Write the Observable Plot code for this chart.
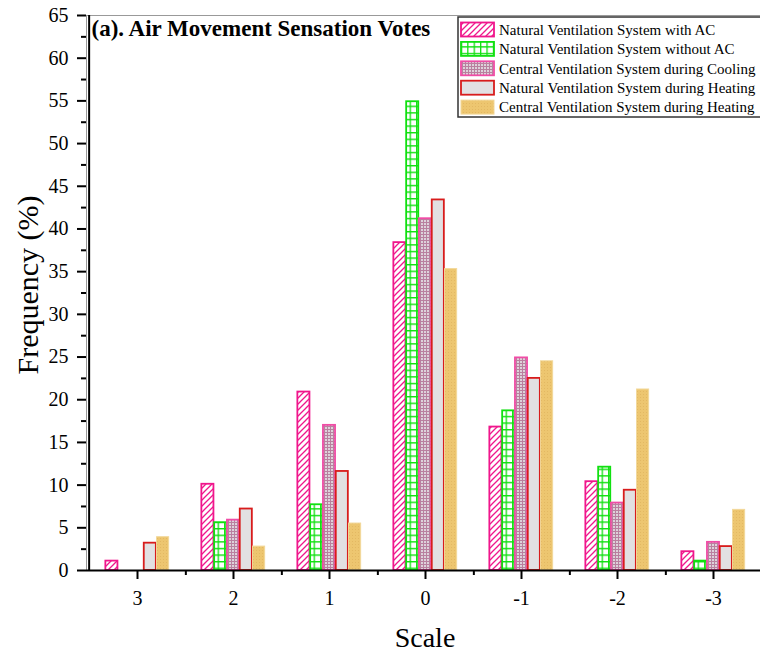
<!DOCTYPE html>
<html><head><meta charset="utf-8">
<script src="https://cdn.jsdelivr.net/npm/d3@7"></script>
<script src="https://cdn.jsdelivr.net/npm/@observablehq/plot@0.6"></script>
<style>
html,body{margin:0;padding:0;background:#fff;overflow:hidden;}
#chart{width:760px;height:656px;overflow:hidden;position:relative;}
#chart svg{max-width:none !important;}
</style></head><body><div id="chart"></div>
<script>
// ---- data ----
const scaleLabels = ["3", "2", "1", "0", "-1", "-2", "-3"];
const seriesNames = [
  "Natural Ventilation System with AC",
  "Natural Ventilation System without AC",
  "Central Ventilation System during Cooling",
  "Natural Ventilation System during Heating",
  "Central Ventilation System during Heating"
];
const natWithAC      = [1.1, 10.1, 20.9, 38.4, 16.8, 10.4, 2.2];
const natWithoutAC   = [0,   5.6,  7.7,  54.9, 18.7, 12.1, 1.1];
const centralCooling = [0,   5.9,  17.0, 41.2, 24.9, 7.9,  3.3];
const natHeating     = [3.2, 7.2,  11.6, 43.4, 22.5, 9.4,  2.8];
const centralHeating = [3.9, 2.8,  5.5,  35.3, 24.5, 21.2, 7.1];
const yTicks = [0, 5, 10, 15, 20, 25, 30, 35, 40, 45, 50, 55, 60, 65];
const yMinorTicks = [2.5, 7.5, 12.5, 17.5, 22.5, 27.5, 32.5, 37.5, 42.5, 47.5, 52.5, 57.5, 62.5];
const titleText = "(a). Air Movement Sensation Votes";
const xTitle = "Scale";
const yTitle = "Frequency (%)";

// ---- styles ----
const seriesValues = [natWithAC, natWithoutAC, centralCooling, natHeating, centralHeating];
const styles = [
  {fill: "url(#pHatch)", stroke: "#f0168c", sw: 1.8},
  {fill: "url(#pGrid)", stroke: "#10e010", sw: 1.8},
  {fill: "url(#pCool)", stroke: "#f04ca6", sw: 1.8},
  {fill: "#e2e0e2", stroke: "#d81c1c", sw: 1.8},
  {fill: "url(#pGold)", stroke: "#f2d89a", sw: 1}
];

const W = 763, H = 656, mL = 86, mR = 0, mT = 15, mB = 86;
const step = (W - mL - mR) / scaleLabels.length;
const barW = 12.8;
const free = (step - barW) / 2;
const FONT = "'Liberation Serif', 'Times New Roman', serif";

const barMarks = seriesValues.map((vals, i) => {
  const rows = scaleLabels.map((s, j) => ({scale: s, value: vals[j], series: seriesNames[i]}))
    .filter(d => d.value > 0);
  const off = (i - 2) * barW;
  return Plot.barY(rows, {
    x: "scale", y: "value",
    fill: styles[i].fill, stroke: styles[i].stroke, strokeWidth: styles[i].sw,
    insetLeft: free + off, insetRight: free - off
  });
});

const chart = Plot.plot({
  width: W, height: H,
  marginLeft: mL, marginRight: mR, marginTop: mT, marginBottom: mB,
  style: {fontFamily: FONT, fontSize: "20px", color: "black", background: "white", maxWidth: "none"},
  x: {domain: scaleLabels, padding: 0, axis: null},
  y: {domain: [0, 65], axis: null},
  marks: [
    Plot.frame({stroke: "#999", strokeWidth: 1}),
    ...barMarks,
    Plot.axisY({ticks: yMinorTicks, tickSize: 5, tickFormat: () => "", label: null, strokeWidth: 2}),
    Plot.axisY({ticks: yTicks, tickSize: 9, tickPadding: 9, fontSize: 20, label: null, strokeWidth: 2}),
    Plot.axisX({ticks: scaleLabels, tickSize: 5, tickFormat: () => "", dx: step / 2, label: null, strokeWidth: 2}),
    Plot.axisX({ticks: scaleLabels, tickSize: 9, tickPadding: 11, fontSize: 20, label: null, strokeWidth: 2}),
    Plot.ruleY([0], {strokeWidth: 2, stroke: "black"}),
    Plot.ruleX([scaleLabels[0]], {dx: -step / 2, strokeWidth: 2, stroke: "black"}),
    Plot.text([titleText], {text: d => d, frameAnchor: "top-left", textAnchor: "start", lineAnchor: "top",
      dx: 5, dy: 4, fontSize: 23, fontWeight: "bold"}),
    Plot.text([yTitle], {text: d => d, frameAnchor: "left", textAnchor: "middle", lineAnchor: "middle",
      rotate: -90, dx: -58, dy: -8, fontSize: 30}),
    Plot.text([xTitle], {text: d => d, frameAnchor: "bottom", dy: 76, fontSize: 28})
  ]
});
chart.style.maxWidth = "none";

// ---- patterns ----
const svg = d3.select(chart);
const defs = svg.insert("defs", ":first-child");
{
  const p = defs.append("pattern").attr("id", "pHatch").attr("patternUnits", "userSpaceOnUse")
    .attr("width", 6).attr("height", 6);
  p.append("rect").attr("width", 6).attr("height", 6).attr("fill", "white");
  p.append("path").attr("d", "M0,6L6,0M-1,1L1,-1M5,7L7,5").attr("stroke", "#f0168c").attr("stroke-width", 1.3);
}
{
  const p = defs.append("pattern").attr("id", "pGrid").attr("patternUnits", "userSpaceOnUse")
    .attr("width", 6.4).attr("height", 6.6);
  p.append("rect").attr("width", 6.4).attr("height", 6.6).attr("fill", "white");
  p.append("path").attr("d", "M0,0.6H6.4M0.6,0V6.6").attr("stroke", "#10e010").attr("stroke-width", 1.4);
}
{
  const p = defs.append("pattern").attr("id", "pCool").attr("patternUnits", "userSpaceOnUse")
    .attr("width", 3).attr("height", 3);
  p.append("rect").attr("width", 3).attr("height", 3).attr("fill", "#ddd2da");
  p.append("path").attr("d", "M0,0.5H3M0.5,0V3").attr("stroke", "#b9809f").attr("stroke-width", 1);
}
{
  const p = defs.append("pattern").attr("id", "pGold").attr("patternUnits", "userSpaceOnUse")
    .attr("width", 3).attr("height", 3);
  p.append("rect").attr("width", 3).attr("height", 3).attr("fill", "#edc670");
  p.append("rect").attr("x", 1).attr("y", 1).attr("width", 1).attr("height", 1).attr("fill", "#e3b862");
}

// ---- legend ----
const lg = svg.append("g").attr("font-family", FONT).attr("text-anchor", "start");
lg.append("rect").attr("x", 458).attr("y", 17).attr("width", 320).attr("height", 100)
  .attr("fill", "white").attr("stroke", "#333").attr("stroke-width", 1.5);
seriesNames.forEach((name, i) => {
  const cy = 29.5 + i * 19.4;
  lg.append("rect").attr("x", 461).attr("y", cy - 7).attr("width", 33).attr("height", 14)
    .attr("fill", styles[i].fill).attr("stroke", styles[i].stroke).attr("stroke-width", styles[i].sw);
  lg.append("text").attr("x", 499).attr("y", cy).attr("dy", "0.35em").attr("text-anchor", "start")
    .attr("font-size", 15).attr("fill", "black").text(name);
});

document.getElementById("chart").appendChild(chart);
</script>
</body></html>
